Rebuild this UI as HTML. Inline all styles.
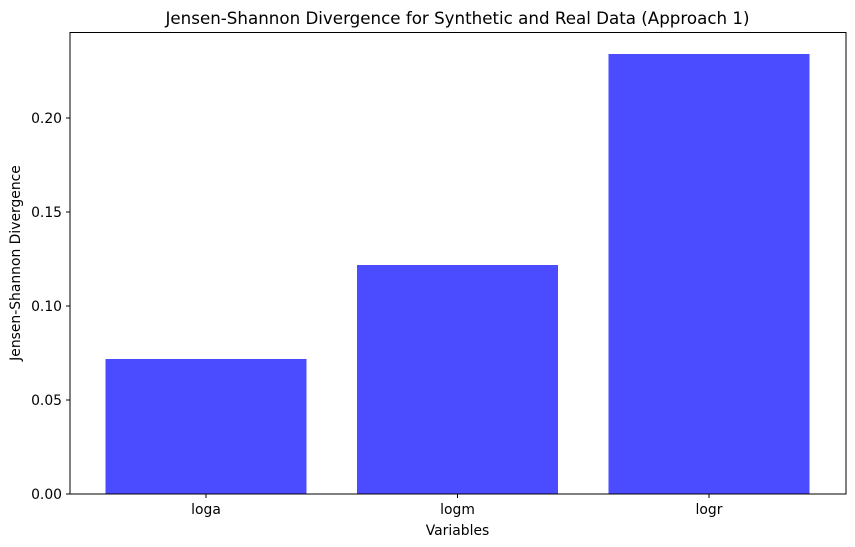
<!DOCTYPE html>
<html><head><meta charset="utf-8"><style>body{margin:0;background:#fff}svg{display:block}text{font-family:"DejaVu Sans","Liberation Sans",sans-serif;fill:#000}</style></head>
<body>
<svg width="855" height="547" viewBox="0 0 855 547" xmlns="http://www.w3.org/2000/svg">
<rect width="855" height="547" fill="#fff"/>
<rect x="105.5" y="359" width="201" height="135" fill="#4b4bff"/>
<rect x="357" y="265" width="201" height="229" fill="#4b4bff"/>
<rect x="608.5" y="54" width="201" height="440" fill="#4b4bff"/>
<rect x="70" y="32.5" width="776" height="461.5" fill="none" stroke="#000" stroke-width="1"/>
<g stroke="#000" stroke-width="1">
<line x1="66" x2="70" y1="494" y2="494"/><line x1="66" x2="70" y1="400" y2="400"/><line x1="66" x2="70" y1="306" y2="306"/><line x1="66" x2="70" y1="212" y2="212"/><line x1="66" x2="70" y1="118" y2="118"/>
<line x1="206" x2="206" y1="494" y2="498"/><line x1="457.5" x2="457.5" y1="494" y2="498"/><line x1="709" x2="709" y1="494" y2="498"/>
</g>
<g font-size="13.9" text-anchor="end">
<text x="62" y="499">0.00</text><text x="62" y="405">0.05</text><text x="62" y="311">0.10</text><text x="62" y="217">0.15</text><text x="62" y="123">0.20</text>
</g>
<g font-size="13.9" text-anchor="middle">
<text x="206" y="514">loga</text><text x="457.5" y="514">logm</text><text x="709" y="514">logr</text>
<text x="457.5" y="535">Variables</text>
</g>
<text x="0" y="0" font-size="13.9" text-anchor="middle" transform="translate(20,263) rotate(-90)">Jensen-Shannon Divergence</text>
<text x="457.5" y="24" font-size="16.7" text-anchor="middle">Jensen-Shannon Divergence for Synthetic and Real Data (Approach 1)</text>
</svg>
</body></html>
